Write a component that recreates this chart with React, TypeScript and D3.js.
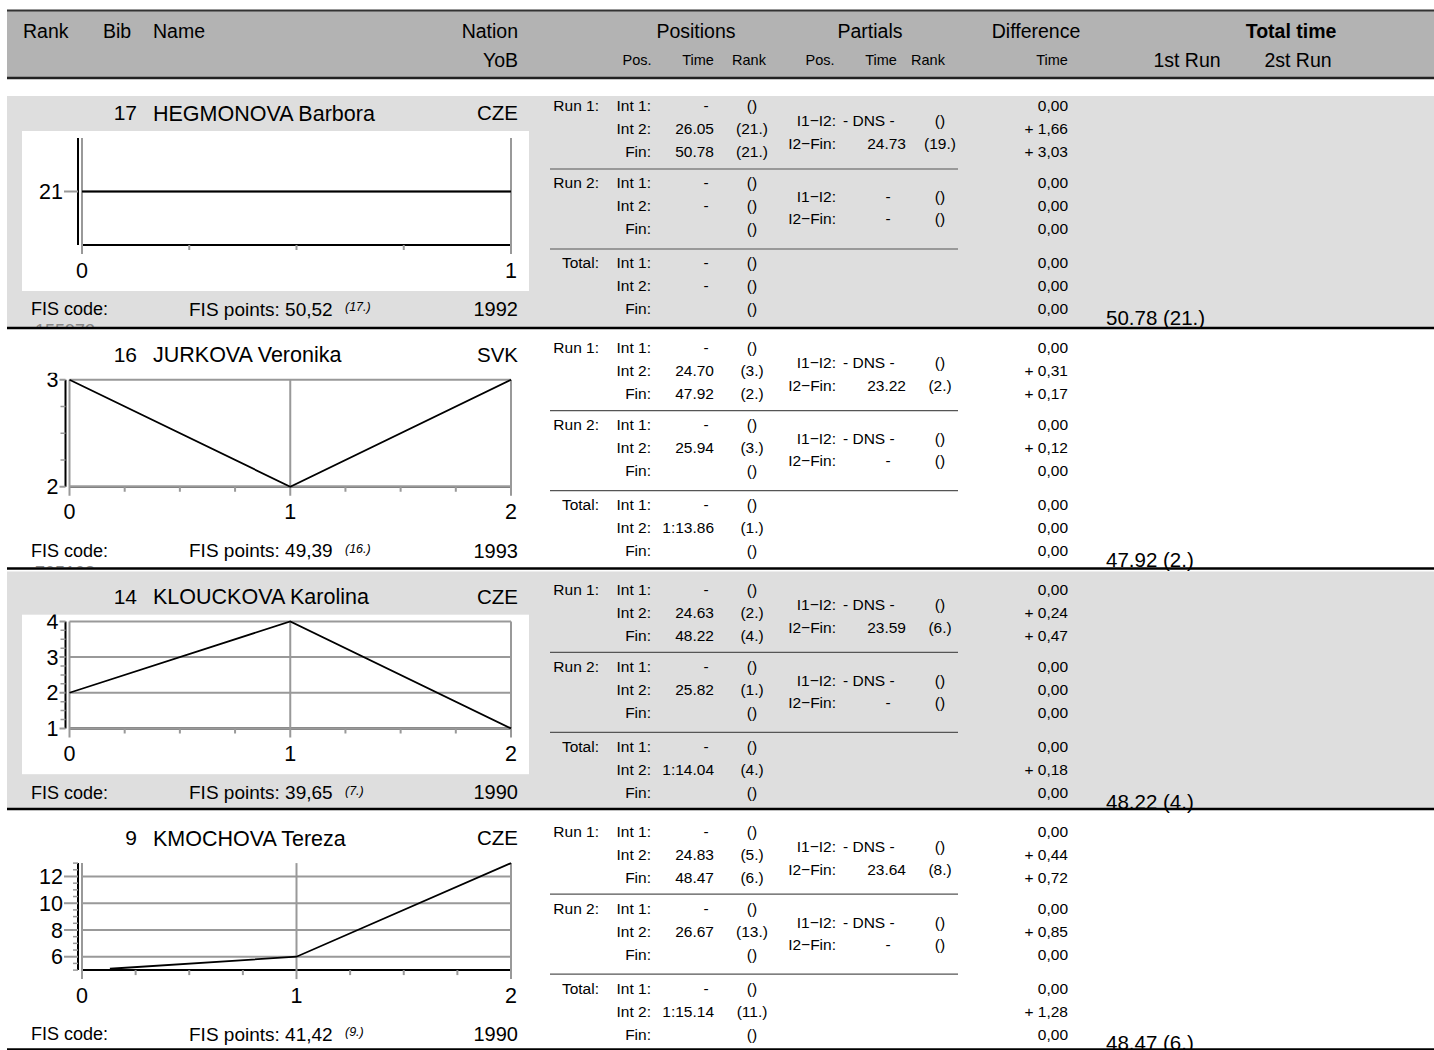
import React, { useEffect, useRef } from "react";
import * as d3 from "d3";

const W = 1434;
const H = 1050;
const FONT = "'Liberation Sans', Arial, sans-serif";

// athletes
const bibs = ["17", "16", "14", "9"];
const names = ["HEGMONOVA Barbora", "JURKOVA Veronika", "KLOUCKOVA Karolina", "KMOCHOVA Tereza"];
const nations = ["CZE", "SVK", "CZE", "CZE"];
const yobs = ["1992", "1993", "1990", "1990"];
const fisPoints = ["50,52", "49,39", "39,65", "41,42"];
const fisRanks = ["(17.)", "(16.)", "(7.)", "(9.)"];
const fisCodes = ["155973", "705108", "155905", "155930"];
const totalRun1 = ["50.78 (21.)", "47.92 (2.)", "48.22 (4.)", "48.47 (6.)"];

// rank progression charts
const chartX = [[0, 1], [0, 1, 2], [0, 1, 2], [0.13, 1, 2]];
const chartY = [[21, 21], [3, 2, 3], [2, 4, 1], [5.1, 6, 13]];
const xDomains = [[0, 1], [0, 2], [0, 2], [0, 2]];
const yDomains = [[20.5, 21.5], [2, 3], [1, 4], [5, 13]];
const yTicks = [[21], [2, 3], [1, 2, 3, 4], [6, 8, 10, 12]];
const yMinor = [0, 0.25, 0.25, 0.5];

// positions table
const run1Times = [["-", "26.05", "50.78"], ["-", "24.70", "47.92"], ["-", "24.63", "48.22"], ["-", "24.83", "48.47"]];
const run1Ranks = [["()", "(21.)", "(21.)"], ["()", "(3.)", "(2.)"], ["()", "(2.)", "(4.)"], ["()", "(5.)", "(6.)"]];
const run2Times = [["-", "-", ""], ["-", "25.94", ""], ["-", "25.82", ""], ["-", "26.67", ""]];
const run2Ranks = [["()", "()", "()"], ["()", "(3.)", "()"], ["()", "(1.)", "()"], ["()", "(13.)", "()"]];
const totTimes = [["-", "-", ""], ["-", "1:13.86", ""], ["-", "1:14.04", ""], ["-", "1:15.14", ""]];
const totRanks = [["()", "()", "()"], ["()", "(1.)", "()"], ["()", "(4.)", "()"], ["()", "(11.)", "()"]];

// partials
const run1Partials = [["- DNS -", "24.73"], ["- DNS -", "23.22"], ["- DNS -", "23.59"], ["- DNS -", "23.64"]];
const run1PartialRanks = [["()", "(19.)"], ["()", "(2.)"], ["()", "(6.)"], ["()", "(8.)"]];
const run2Partials = [["-", "-"], ["- DNS -", "-"], ["- DNS -", "-"], ["- DNS -", "-"]];
const run2PartialRanks = [["()", "()"], ["()", "()"], ["()", "()"], ["()", "()"]];

// differences
const diffs = [
  ["0,00", "+ 1,66", "+ 3,03", "0,00", "0,00", "0,00", "0,00", "0,00", "0,00"],
  ["0,00", "+ 0,31", "+ 0,17", "0,00", "+ 0,12", "0,00", "0,00", "0,00", "0,00"],
  ["0,00", "+ 0,24", "+ 0,47", "0,00", "0,00", "0,00", "0,00", "+ 0,18", "0,00"],
  ["0,00", "+ 0,44", "+ 0,72", "0,00", "+ 0,85", "0,00", "0,00", "+ 1,28", "0,00"],
];

const intLabels = ["Int 1:", "Int 2:", "Fin:"];
const runLabels = ["Run 1:", "Run 2:", "Total:"];

const App: React.FC = () => {
  const svgRef = useRef<SVGSVGElement>(null);

  useEffect(() => {
    if (!svgRef.current) return;
    const svg = d3.select(svgRef.current);
    svg.selectAll("*").remove();

    const txt = (
      g: d3.Selection<any, any, any, any>,
      x: number,
      y: number,
      s: string,
      size: number,
      anchor = "start",
      extra?: (t: d3.Selection<SVGTextElement, any, any, any>) => void
    ) => {
      const t = g
        .append("text")
        .attr("x", x)
        .attr("y", y)
        .attr("dy", "0.35em")
        .attr("font-size", size)
        .attr("text-anchor", anchor)
        .attr("fill", "#000")
        .text(s);
      if (extra) extra(t);
      return t;
    };

    svg.attr("font-family", FONT);

    // header
    const head = svg.append("g");
    head.append("rect").attr("x", 7).attr("y", 10).attr("width", W - 7).attr("height", 68).attr("fill", "#b3b3b3");
    head.append("line").attr("x1", 7).attr("x2", W).attr("y1", 10.5).attr("y2", 10.5).attr("stroke", "#333").attr("stroke-width", 2);
    head.append("line").attr("x1", 7).attr("x2", W).attr("y1", 78).attr("y2", 78).attr("stroke", "#222").attr("stroke-width", 2.5);
    txt(head, 23, 31, "Rank", 19.5);
    txt(head, 103, 31, "Bib", 19.5);
    txt(head, 153, 31, "Name", 19.5);
    txt(head, 518, 31, "Nation", 19.5, "end");
    txt(head, 696, 31, "Positions", 19.5, "middle");
    txt(head, 870, 31, "Partials", 19.5, "middle");
    txt(head, 1036, 31, "Difference", 19.5, "middle");
    txt(head, 1291, 31, "Total time", 19.5, "middle", (t) => t.attr("font-weight", "bold"));
    txt(head, 518, 60, "YoB", 19.5, "end");
    txt(head, 637, 60, "Pos.", 14.5, "middle");
    txt(head, 698, 60, "Time", 14.5, "middle");
    txt(head, 749, 60, "Rank", 14.5, "middle");
    txt(head, 820, 60, "Pos.", 14.5, "middle");
    txt(head, 881, 60, "Time", 14.5, "middle");
    txt(head, 928, 60, "Rank", 14.5, "middle");
    txt(head, 1052, 60, "Time", 14.5, "middle");
    txt(head, 1187, 60, "1st Run", 19.5, "middle");
    txt(head, 1298, 60, "2st Run", 19.5, "middle");

    const defs = svg.append("defs");

    bibs.forEach((bib, i) => {
      const nameY = 113 + i * 241.7;
      const lineY = 328 + i * 240.5;
      const rowTop = i === 0 ? 96 : 328 + (i - 1) * 240.5 + 3;
      const g = svg.append("g");

      if (i % 2 === 0) {
        g.append("rect").attr("x", 7).attr("y", rowTop).attr("width", W - 7).attr("height", lineY - rowTop).attr("fill", "#dedede");
      }

      // row clip for the half-hidden FIS code
      defs.append("clipPath").attr("id", `row${i}`).append("rect")
        .attr("x", 0).attr("y", rowTop).attr("width", W).attr("height", Math.min(lineY, H) - rowTop - 1);

      txt(g, 137, nameY, bib, 21, "end");
      txt(g, 153, nameY, names[i], 21.5);
      txt(g, 518, nameY, nations[i], 20.5, "end");

      const fy = nameY + 196;
      txt(g, 31, fy, "FIS code:", 18);
      txt(g, 35, fy + 22, fisCodes[i], 18, "start", (t) => t.attr("fill", "#888").attr("clip-path", `url(#row${i})`));
      txt(g, 189, fy, `FIS points: ${fisPoints[i]}`, 19);
      txt(g, 345, fy - 2, fisRanks[i], 12.5, "start", (t) => t.attr("font-style", "italic"));
      txt(g, 518, fy, yobs[i], 20, "end");

      // --- chart
      const top = nameY + 25;
      const bottom = nameY + 132;
      const digits = d3.max(yTicks[i], (d) => String(d).length) || 1;
      const left = 57 + 12.5 * digits;
      const right = 511;
      const labelEnd = left - 11 - 8 * (digits - 1);
      const x = d3.scaleLinear().domain(xDomains[i]).range([left, right]);
      const y = d3.scaleLinear().domain(yDomains[i]).range([bottom, top]);

      defs.append("clipPath").attr("id", `chart${i}`).append("rect")
        .attr("x", 22).attr("y", nameY + 18).attr("width", 507).attr("height", 160);
      const c = g.append("g").attr("clip-path", `url(#chart${i})`);
      c.append("rect").attr("x", 22).attr("y", nameY + 18).attr("width", 507).attr("height", 160).attr("fill", "#fff");

      // x axis line
      c.append("line").attr("x1", left).attr("x2", right).attr("y1", bottom).attr("y2", bottom)
        .attr("stroke", "#000").attr("stroke-width", 2);

      const xMajor = d3.range(xDomains[i][0], xDomains[i][1] + 0.001, 1);
      const xMinor = d3.range(xDomains[i][0], xDomains[i][1] + 0.001, 0.25).filter((v) => v % 1 !== 0);

      // grid
      c.selectAll(".hg").data(yTicks[i]).enter().append("line")
        .attr("x1", left).attr("x2", right).attr("y1", (d) => y(d)).attr("y2", (d) => y(d))
        .attr("stroke", "#999").attr("stroke-width", 2);
      c.selectAll(".vg").data(xMajor).enter().append("line")
        .attr("x1", (d) => x(d)).attr("x2", (d) => x(d)).attr("y1", top).attr("y2", bottom + 9)
        .attr("stroke", "#999").attr("stroke-width", 2);
      c.selectAll(".xm").data(xMinor).enter().append("line")
        .attr("x1", (d) => x(d)).attr("x2", (d) => x(d)).attr("y1", bottom).attr("y2", bottom + 5)
        .attr("stroke", "#999").attr("stroke-width", 2);

      // y axis
      c.append("line").attr("x1", left - 4).attr("x2", left - 4).attr("y1", top).attr("y2", bottom)
        .attr("stroke", "#000").attr("stroke-width", 2);
      if (yMinor[i] > 0) {
        const ym = d3.range(yDomains[i][0], yDomains[i][1] + 0.001, yMinor[i]).filter((v) => !yTicks[i].includes(v));
        c.selectAll(".ym").data(ym).enter().append("line")
          .attr("x1", left - 9).attr("x2", left - 4).attr("y1", (d) => y(d)).attr("y2", (d) => y(d))
          .attr("stroke", "#999").attr("stroke-width", 1.5);
      }
      c.selectAll(".yt").data(yTicks[i]).enter().append("line")
        .attr("x1", labelEnd + 1).attr("x2", left - 4).attr("y1", (d) => y(d)).attr("y2", (d) => y(d))
        .attr("stroke", "#999").attr("stroke-width", 2);

      // rank line
      const pts = chartX[i].map((v, k) => [v, chartY[i][k]] as [number, number]);
      c.append("path")
        .attr("d", d3.line<[number, number]>().x((d) => x(d[0])).y((d) => y(d[1]))(pts))
        .attr("fill", "none").attr("stroke", "#000").attr("stroke-width", 1.8);

      c.selectAll(".yl").data(yTicks[i]).enter().append("text")
        .attr("x", labelEnd).attr("y", (d) => y(d)).attr("dy", "0.35em")
        .attr("text-anchor", "end").attr("font-size", 21.5).text((d) => String(d));
      c.selectAll(".xl").data(xMajor).enter().append("text")
        .attr("x", (d) => x(d)).attr("y", nameY + 157).attr("dy", "0.35em")
        .attr("text-anchor", "middle").attr("font-size", 21.5).text((d) => String(d));

      // --- tables
      const base = nameY - 7;
      const fs = 15.5;
      const blocks = [
        { off: 0, times: run1Times[i], ranks: run1Ranks[i], parts: run1Partials[i], pranks: run1PartialRanks[i], pOff: [15, 38] },
        { off: 77, times: run2Times[i], ranks: run2Ranks[i], parts: run2Partials[i], pranks: run2PartialRanks[i], pOff: [91, 113] },
        { off: 157, times: totTimes[i], ranks: totRanks[i], parts: null, pranks: null, pOff: [] },
      ];
      blocks.forEach((b, bi) => {
        txt(g, 599, base + b.off, runLabels[bi], fs, "end");
        intLabels.forEach((lab, k) => {
          const ly = base + b.off + k * 23;
          txt(g, 651, ly, lab, fs, "end");
          const t = b.times[k];
          if (t === "-") txt(g, 706, ly, t, fs, "middle");
          else if (t) txt(g, 714, ly, t, fs, "end");
          txt(g, 752, ly, b.ranks[k], fs, "middle");
          txt(g, 1068, ly, diffs[i][bi * 3 + k], fs, "end");
        });
        if (b.parts && b.pranks) {
          ["I1\u2212I2:", "I2\u2212Fin:"].forEach((pl, k) => {
            const py = base + b.pOff[k];
            txt(g, 836, py, pl, fs, "end");
            const v = b.parts![k];
            if (v === "- DNS -") txt(g, 843, py, v, fs, "start");
            else if (v === "-") txt(g, 888, py, v, fs, "middle");
            else txt(g, 906, py, v, fs, "end");
            txt(g, 940, py, b.pranks![k], fs, "middle");
          });
        }
      });
      [63, 143].forEach((o) => {
        g.append("line").attr("x1", 550).attr("x2", 958).attr("y1", base + o).attr("y2", base + o)
          .attr("stroke", "#555").attr("stroke-width", 1.2);
      });

      txt(g, 1106, nameY + 205, totalRun1[i], 20.5);

      if (lineY < H) {
        g.append("line").attr("x1", 7).attr("x2", W).attr("y1", lineY).attr("y2", lineY)
          .attr("stroke", "#000").attr("stroke-width", 2.5);
      }
    });
  }, []);

  return (
    <svg
      ref={svgRef}
      width={W}
      height={H}
      style={{ position: "absolute", left: 0, top: 0, display: "block", background: "#fff" }}
    />
  );
};

export default App;
